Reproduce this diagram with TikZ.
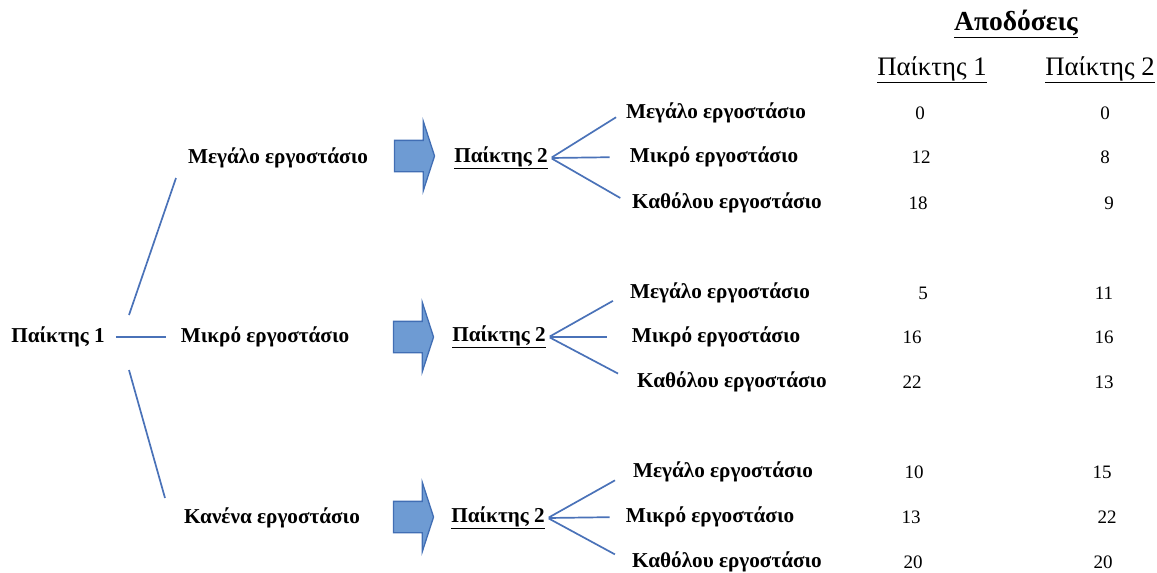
\documentclass[tikz,border=0pt]{standalone}
\usepackage{fontspec}
\setmainfont{Liberation Serif}
\usetikzlibrary{shapes.arrows}
\definecolor{treeblue}{RGB}{74,114,184}
\definecolor{arrowfill}{RGB}{110,155,211}
\definecolor{arrowline}{RGB}{65,110,180}
\tikzstyle{choice} = [font=\fontsize{21.2}{25}\selectfont\bfseries, inner sep=3pt]
\tikzstyle{player} = [font=\fontsize{21.2}{25}\selectfont\bfseries, inner sep=3pt]
\tikzstyle{payoff} = [font=\fontsize{19}{23}\selectfont, inner sep=2pt]
\tikzstyle{head} = [font=\fontsize{26.7}{31}\selectfont, inner sep=2pt]
\tikzstyle{branch} = [draw=treeblue, line width=1.7pt]
\tikzstyle{bigarrow} = [single arrow, draw=arrowline, fill=arrowfill, line width=1.3pt, inner sep=0pt, inner ysep=15pt, minimum height=40pt, single arrow head extend=19pt, single arrow tip angle=144]

\begin{document}
\begin{tikzpicture}[x=1pt, y=-1pt]
	\useasboundingbox (0,0) rectangle (1157,573);
	% headers
	\node (title) [head, font=\fontsize{27.5}{32}\selectfont\bfseries] at (1016,24) {\underline{Αποδόσεις}};
	\node (colA) [head] at (932,70) {\underline{Παίκτης 1}};
	\node (colB) [head] at (1100,70) {\underline{Παίκτης 2}};

	% first move
	\node (root) [player] at (58,337) {Παίκτης 1};
	\node (big) [choice] at (278,158) {Μεγάλο εργοστάσιο};
	\node (small) [choice] at (265,337) {Μικρό εργοστάσιο};
	\node (none) [choice] at (272,518) {Κανένα εργοστάσιο};
	\coordinate (upA) at (129,315);
	\coordinate (upB) at (176,178);
	\coordinate (downA) at (129,370);
	\coordinate (downB) at (165,498);
	\draw [branch](upA) -- (upB);
	\draw [branch, shorten <=8pt, shorten >=12pt](root.east) -- (small.west);
	\draw [branch](downA) -- (downB);

	\node (arr1) [bigarrow] at (412,156) {};
	\node (arr2) [bigarrow] at (411,337) {};
	\node (arr3) [bigarrow] at (411,517) {};

	% second move
	\node (p2a) [player] at (501,158) {\underline{Παίκτης 2}};
	\node (p2b) [player] at (499,337) {\underline{Παίκτης 2}};
	\node (p2c) [player] at (498,518) {\underline{Παίκτης 2}};

	\node (a1) [choice] at (716,113) {Μεγάλο εργοστάσιο};
	\node (a2) [choice] at (714,157) {Μικρό εργοστάσιο};
	\node (a3) [choice] at (727,203) {Καθόλου εργοστάσιο};
	\node (b1) [choice] at (720,293) {Μεγάλο εργοστάσιο};
	\node (b2) [choice] at (716,337) {Μικρό εργοστάσιο};
	\node (b3) [choice] at (732,382) {Καθόλου εργοστάσιο};
	\node (c1) [choice] at (723,472) {Μεγάλο εργοστάσιο};
	\node (c2) [choice] at (710,517) {Μικρό εργοστάσιο};
	\node (c3) [choice] at (727,562) {Καθόλου εργοστάσιο};

	\draw [branch, shorten <=1pt, shorten >=8pt](p2a.east) -- (a1.west);
	\draw [branch, shorten <=1pt, shorten >=17pt](p2a.east) -- (a2.west);
	\draw [branch, shorten <=1pt, shorten >=10pt](p2a.east) -- (a3.west);
	\draw [branch, shorten <=1pt, shorten >=16pt](p2b.east) -- (b1.west);
	\draw [branch, shorten <=1pt, shorten >=22pt](p2b.east) -- (b2.west);
	\draw [branch, shorten <=1pt, shorten >=18pt](p2b.east) -- (b3.west);
	\draw [branch, shorten <=1pt, shorten >=17pt](p2c.east) -- (c1.west);
	\draw [branch, shorten <=1pt, shorten >=13pt](p2c.east) -- (c2.west);
	\draw [branch, shorten <=1pt, shorten >=16pt](p2c.east) -- (c3.west);

	% payoffs
	\node (a1x) [payoff] at (920,113) {0};
	\node (a1y) [payoff] at (1105,113) {0};
	\node (a2x) [payoff] at (921,157) {12};
	\node (a2y) [payoff] at (1105,157) {8};
	\node (a3x) [payoff] at (918,203) {18};
	\node (a3y) [payoff] at (1109,203) {9};
	\node (b1x) [payoff] at (923,293) {5};
	\node (b1y) [payoff] at (1104,293) {11};
	\node (b2x) [payoff] at (912,337) {16};
	\node (b2y) [payoff] at (1104,337) {16};
	\node (b3x) [payoff] at (912,382) {22};
	\node (b3y) [payoff] at (1104,382) {13};
	\node (c1x) [payoff] at (914,472) {10};
	\node (c1y) [payoff] at (1102,472) {15};
	\node (c2x) [payoff] at (911,517) {13};
	\node (c2y) [payoff] at (1107,517) {22};
	\node (c3x) [payoff] at (913,562) {20};
	\node (c3y) [payoff] at (1103,562) {20};
\end{tikzpicture}
\end{document}
